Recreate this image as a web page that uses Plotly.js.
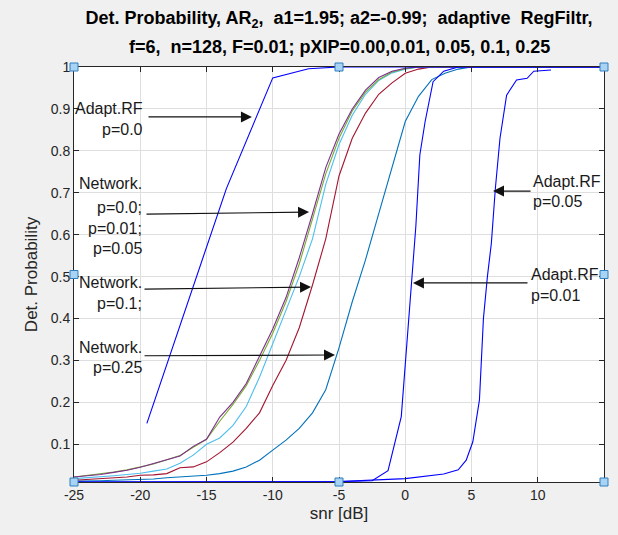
<!DOCTYPE html>
<html>
<head>
<meta charset="utf-8">
<script src="https://cdn.plot.ly/plotly-3.0.1.min.js"></script>
<style>
  html, body { margin: 0; padding: 0; background: #f0f0f0; }
  #chart { width: 618px; height: 535px; }
</style>
</head>
<body>
<div id="chart"></div>
<script>
// ---- data ----
const snr = [-25,-24,-23,-22,-21,-20,-19,-18,-17,-16,-15,-14,-13,-12,-11,-10,-9,-8,-7,-6,-5,-4,-3,-2,-1,0,1,2,3,4,5,6,7,8,9,10,11,12,13,14,15];

const netP000 = [0.022,0.025,0.028,0.033,0.038,0.045,0.054,0.062,0.072,0.095,0.112,0.165,0.200,0.245,0.310,0.375,0.450,0.545,0.650,0.760,0.840,0.900,0.945,0.975,0.990,0.997,1,1,1,1,1,1,1,1,1,1,1,1,1,1,1];
const netP001 = [0.022,0.026,0.029,0.034,0.039,0.046,0.053,0.063,0.073,0.093,0.112,0.155,0.195,0.240,0.300,0.365,0.440,0.530,0.635,0.745,0.830,0.895,0.940,0.970,0.988,0.996,1,1,1,1,1,1,1,1,1,1,1,1,1,1,1];
const netP005 = [0.018,0.020,0.022,0.025,0.028,0.031,0.036,0.041,0.055,0.074,0.100,0.115,0.145,0.190,0.260,0.340,0.420,0.500,0.590,0.720,0.815,0.885,0.935,0.968,0.986,0.995,1,1,1,1,1,1,1,1,1,1,1,1,1,1,1];
const netP010 = [0.014,0.016,0.018,0.020,0.022,0.026,0.027,0.030,0.044,0.046,0.058,0.080,0.105,0.138,0.175,0.240,0.300,0.378,0.480,0.590,0.740,0.830,0.890,0.935,0.962,0.985,0.995,1,1,1,1,1,1,1,1,1,1,1,1,1,1];
const netP025 = [0.012,0.012,0.013,0.014,0.015,0.015,0.017,0.020,0.022,0.025,0.026,0.030,0.036,0.046,0.062,0.086,0.110,0.138,0.175,0.230,0.330,0.440,0.540,0.650,0.760,0.870,0.930,0.970,0.985,0.995,1,1,1,1,1,1,1,1,1,1,1];

const arfP000_x = [-19.5,-13.5,-10,-7.3,-5,0,5,10,15];
const arfP000_y = [0.15,0.71,0.974,0.996,1,1,1,1,1];

const arfP001_x = [-25,-20,-15,-10,-5,-2.5,-1.3,-0.3,0.1,0.45,0.8,1.1,1.5,2.1,2.9,4,10,15];
const arfP001_y = [0.010,0.010,0.010,0.010,0.011,0.013,0.037,0.166,0.33,0.49,0.62,0.79,0.87,0.965,0.99,1,1,1];

const arfP005_x = [-25,-20,-15,-10,-5,0,2.9,4.0,4.6,5.1,5.6,5.9,6.2,6.5,6.8,7.15,7.65,8.4,9.2,9.7,10.3,11];
const arfP005_y = [0.010,0.010,0.010,0.010,0.011,0.018,0.029,0.039,0.062,0.106,0.206,0.40,0.50,0.58,0.71,0.83,0.933,0.969,0.973,0.99,0.991,0.993];

const xTicks = [-25,-20,-15,-10,-5,0,5,10];

// ---- styles ----
const C_BLUE = '#0000ff';
const font = 'Arial, "Liberation Sans", Helvetica, sans-serif';
const lw = 1.1;

const traces = [
  {x: snr, y: netP025, color: '#0072BD', name: 'Network p=0.25'},
  {x: snr, y: netP010, color: '#A2142F', name: 'Network p=0.1'},
  {x: snr, y: netP005, color: '#4DBEEE', name: 'Network p=0.05'},
  {x: snr, y: netP001, color: '#77AC30', name: 'Network p=0.01'},
  {x: snr, y: netP000, color: '#7E2F8E', name: 'Network p=0.0'},
  {x: arfP000_x, y: arfP000_y, color: C_BLUE, name: 'Adapt.RF p=0.0'},
  {x: arfP001_x, y: arfP001_y, color: C_BLUE, name: 'Adapt.RF p=0.01'},
  {x: arfP005_x, y: arfP005_y, color: C_BLUE, name: 'Adapt.RF p=0.05'}
].map(t => ({
  x: t.x, y: t.y, type: 'scatter', mode: 'lines', name: t.name,
  line: {color: t.color, width: lw}, showlegend: false, hoverinfo: 'x+y'
}));

// text labels (one annotation per line, as in the reference)
const txtFont = {family: font, size: 16, color: '#1a1a1a'};
function label(text, x, y, anchor) {
  return {text: text, x: x, y: y, xref: 'x', yref: 'y', showarrow: false,
          xanchor: anchor, yanchor: 'middle', font: txtFont};
}
function arrow(x0, y0, x1, y1) {
  return {text: '', x: x1, y: y1, ax: x0, ay: y0, xref: 'x', yref: 'y',
          axref: 'x', ayref: 'y', showarrow: true, arrowhead: 2,
          arrowsize: 2, arrowwidth: 1.1, arrowcolor: '#111111'};
}

const titleFont = {family: font, size: 18, color: '#000000', weight: 'bold'};

const annotations = [
  {text: 'f=6,  n=128, F=0.01; pXIP=0.00,0.01, 0.05, 0.1, 0.25', xref: 'paper', yref: 'paper',
   x: 0.5, y: 1, yshift: 20, xanchor: 'center', yanchor: 'middle', showarrow: false,
   font: titleFont},

  label('Adapt.RF', -19.64, 0.902, 'right'),
  label('p=0.0', -19.64, 0.850, 'right'),
  arrow(-19.49, 0.881, -11.57, 0.881),

  label('Network.', -19.7, 0.721, 'right'),
  label('p=0.0;', -19.7, 0.666, 'right'),
  label('p=0.01;', -19.7, 0.614, 'right'),
  label('p=0.05', -19.7, 0.566, 'right'),
  arrow(-19.64, 0.649, -7.26, 0.654),

  label('Network.', -19.7, 0.487, 'right'),
  label('p=0.1;', -19.7, 0.437, 'right'),
  arrow(-19.79, 0.470, -7.11, 0.475),

  label('Network.', -19.7, 0.332, 'right'),
  label('p=0.25', -19.7, 0.282, 'right'),
  arrow(-19.79, 0.311, -5.30, 0.313),

  label('Adapt.RF', 9.5, 0.726, 'left'),
  label('p=0.05', 9.5, 0.678, 'left'),
  arrow(9.57, 0.704, 6.62, 0.704),

  label('Adapt.RF', 9.35, 0.506, 'left'),
  label('p=0.01', 9.35, 0.456, 'left'),
  arrow(9.34, 0.485, 0.58, 0.485)
];

// figure-editing handles at axes corners / mid-points
const handlePos = [[0,0],[0.5,0],[1,0],[0,0.5],[1,0.5],[0,1],[0.5,1],[1,1]];
const shapes = handlePos.map(p => ({
  type: 'rect', xref: 'paper', yref: 'paper', xsizemode: 'pixel', ysizemode: 'pixel',
  xanchor: p[0], yanchor: p[1], x0: -4, x1: 4, y0: -4, y1: 4,
  fillcolor: '#a9d3f2', line: {color: '#2f7fc1', width: 1}, layer: 'above'
}));

const axisCommon = {
  showline: true, linecolor: '#262626', linewidth: 1, mirror: 'ticks',
  ticks: 'inside', ticklen: 5, tickcolor: '#262626',
  showgrid: true, gridcolor: '#dedede', gridwidth: 1, zeroline: false,
  tickfont: {family: font, size: 14, color: '#262626'}
};

const layout = {
  width: 618, height: 535,
  paper_bgcolor: '#f0f0f0', plot_bgcolor: '#ffffff',
  margin: {l: 74, r: 14, t: 67, b: 53},
  title: {text: 'Det. Probability, AR<sub>2</sub>,  a1=1.95; a2=-0.99;  adaptive  RegFiltr,',
          font: titleFont,
          x: 0.5, xref: 'paper', xanchor: 'center', y: 1 - 18/535, yref: 'container', yanchor: 'middle'},
  xaxis: Object.assign({}, axisCommon, {
    range: [-25, 15], tickvals: xTicks, ticktext: xTicks.map(String),
    title: {text: 'snr [dB]', font: {family: font, size: 17, color: '#262626'}, standoff: 5}
  }),
  yaxis: Object.assign({}, axisCommon, {
    range: [0.01, 1], tick0: 0, dtick: 0.1,
    title: {text: 'Det. Probability', font: {family: font, size: 17, color: '#262626'}, standoff: 8}
  }),
  annotations: annotations,
  shapes: shapes,
  showlegend: false
};

Plotly.newPlot('chart', traces, layout, {displayModeBar: false, staticPlot: true});
</script>
</body>
</html>
